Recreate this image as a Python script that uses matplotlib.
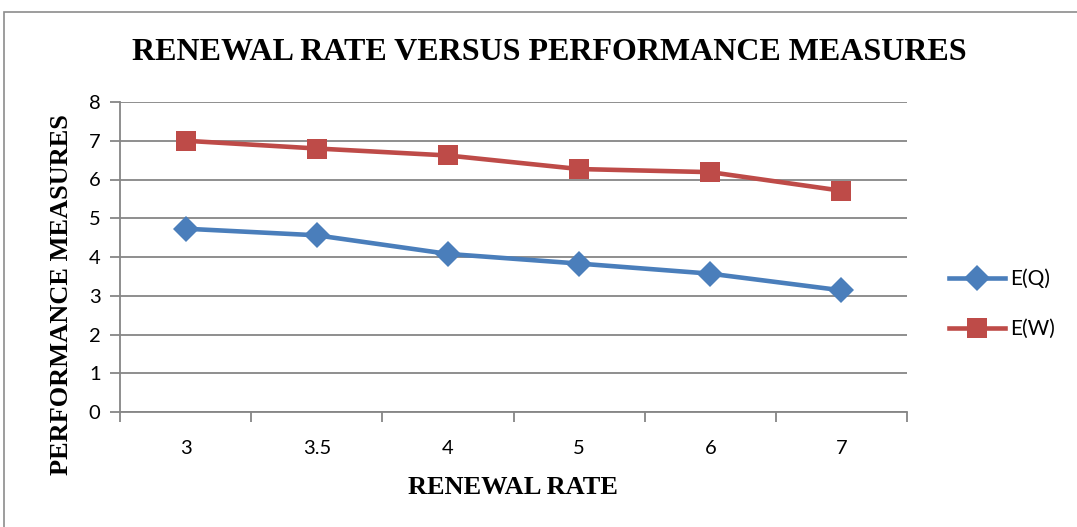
import matplotlib
matplotlib.use("Agg")
import matplotlib.pyplot as plt
from matplotlib.patches import Rectangle

# Chart data
renewal_rate = ["3", "3.5", "4", "5", "6", "7"]
expected_queue = [4.73, 4.56, 4.08, 3.83, 3.57, 3.14]     # E(Q)
expected_wait = [7.00, 6.80, 6.62, 6.27, 6.19, 5.71]      # E(W)
y_ticks = [0, 1, 2, 3, 4, 5, 6, 7, 8]

W, H = 1077, 527
fig = plt.figure(figsize=(W / 100, H / 100), dpi=100)
fig.patch.set_facecolor("white")

# outer chart frame
fig.add_artist(Rectangle((4 / W, -0.05), 1.2, (H - 12) / H + 0.05,
                         transform=fig.transFigure, fill=False,
                         edgecolor="#8c8c8c", linewidth=1.2))

left, right, top, bottom = 120, 907, 102, 412
ax = fig.add_axes([left / W, 1 - bottom / H, (right - left) / W, (bottom - top) / H])

grid_c = "#868686"
blue = "#4A7EBB"
red = "#BE4B48"

x = list(range(len(renewal_rate)))
ax.plot(x, expected_queue, color=blue, linewidth=3.3, marker="D",
        markersize=13, markeredgewidth=0, label="E(Q)", zorder=3)
ax.plot(x, expected_wait, color=red, linewidth=3.3, marker="s",
        markersize=14.5, markeredgewidth=0, label="E(W)", zorder=3)

ax.set_xlim(-0.5, len(renewal_rate) - 0.5)
ax.set_ylim(0, 8)
ax.set_yticks(y_ticks)
ax.set_xticks([i - 0.5 for i in range(len(renewal_rate) + 1)], minor=False)
ax.set_xticklabels([])
ax.set_xticks(x, minor=True)
ax.set_xticklabels(renewal_rate, minor=True)
ax.tick_params(axis="x", which="minor", length=0, pad=20,
               labelsize=14.5, labelcolor="black")
ax.tick_params(axis="x", which="major", length=7, width=1.3, color=grid_c,
               direction="out")
ax.tick_params(axis="y", length=7, width=1.3, color=grid_c, direction="out",
               labelsize=14.5, pad=7)
for lab in ax.get_yticklabels() + ax.get_xticklabels(minor=True):
    lab.set_fontfamily("Lato")

ax.grid(axis="y", color=grid_c, linewidth=1.3)
ax.set_axisbelow(True)
for side in ("top", "right"):
    ax.spines[side].set_visible(False)
for side in ("left", "bottom"):
    ax.spines[side].set_color(grid_c)
    ax.spines[side].set_linewidth(1.3)

serif = "Liberation Serif"
fig.text(549 / W, 1 - 52 / H, "RENEWAL RATE VERSUS PERFORMANCE MEASURES",
         ha="center", va="center", fontsize=23, fontweight="bold",
         family=serif)
fig.text(513 / W, 1 - 488 / H, "RENEWAL RATE", ha="center", va="center",
         fontsize=19, fontweight="bold", family=serif)
fig.text(62 / W, 1 - 295 / H, "PERFORMANCE MEASURES", ha="center",
         va="center", rotation=90, fontsize=19, fontweight="bold",
         family=serif)

leg = fig.legend(loc="center left", bbox_to_anchor=(930 / W, 1 - 304 / H),
                 frameon=False, handlelength=2.7, labelspacing=1.45,
                 prop={"family": "Lato", "size": 15}, handletextpad=0.25)

fig.savefig("out.png", dpi=100)
